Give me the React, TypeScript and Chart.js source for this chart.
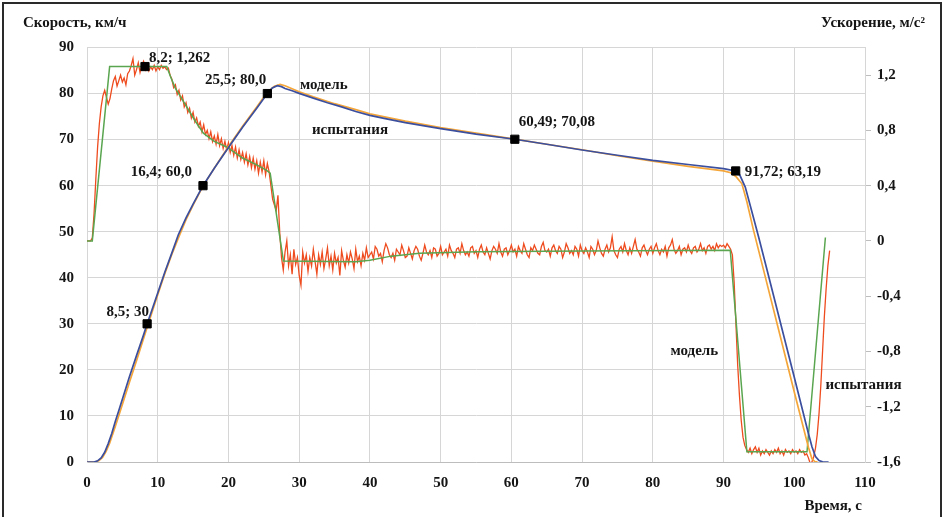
import { useEffect, useRef } from 'react';
import { Chart, registerables } from 'chart.js';

Chart.register(...registerables);

// ---------- DATA ----------
// Speed, test (km/h) – blue
const TEST_SPEED_T = [0, 1, 1.5, 2, 2.5, 3, 3.5, 4, 4.5, 5, 6, 7, 8, 8.5, 9, 10, 11, 12, 12.9, 14, 15, 16.4, 18, 20, 22, 24, 25.5, 26.2, 26.9, 27.5, 28, 29, 30, 32, 34, 36, 38, 40, 42, 45, 50, 55, 60.49, 65, 70, 75, 80, 85, 90, 91.72, 92.3, 93.07, 94, 94.95, 96, 98, 100, 102, 102.5, 103, 103.5, 104, 104.85];
const TEST_SPEED_V = [0, 0, 0.25, 0.9, 2.1, 4, 6.2, 8.8, 11.2, 13.6, 18.5, 23.1, 27.6, 30, 32.2, 36.7, 41.2, 45.4, 49.3, 53, 56, 60, 63.8, 68.3, 72.7, 76.8, 80, 81.2, 81.7, 81.5, 81.1, 80.6, 80.05, 79.0, 78.0, 77.1, 76.1, 75.25, 74.6, 73.7, 72.4, 71.2, 70.08, 69.0, 67.75, 66.6, 65.5, 64.6, 63.7, 63.19, 62.3, 59.7, 54.4, 48.9, 42.6, 30.5, 18.4, 6.2, 3.3, 1.2, 0.3, 0.05, 0];

// Speed, model (km/h) – orange
const MODEL_SPEED_T = [0, 1.2, 1.7, 2.2, 2.7, 3.2, 4, 5, 6, 7, 8, 8.5, 9, 10, 11, 12, 13, 14, 15, 16.4, 18, 20, 22, 24, 25.5, 26.5, 27.3, 28, 30, 32, 35, 38, 40, 45, 50, 55, 60, 65, 70, 75, 80, 85, 90, 91, 91.8, 92.6, 93.3, 94.24, 96, 98, 100, 102, 102.5, 102.9, 103.3];
const MODEL_SPEED_V = [0, 0, 0.3, 1.0, 2.3, 4.1, 7.7, 12.5, 17.3, 22.0, 26.8, 29.2, 31.6, 36.3, 40.9, 45.1, 48.9, 52.6, 55.8, 59.9, 63.8, 68.5, 72.9, 77.1, 80.3, 81.6, 82.0, 81.7, 80.4, 79.3, 77.8, 76.5, 75.6, 74.0, 72.6, 71.4, 70.2, 69.0, 67.8, 66.5, 65.3, 64.2, 63.2, 62.8, 61.9, 60.4, 56.5, 50.3, 39.6, 27.4, 15.2, 3.2, 0.7, 0.1, 0];

// Acceleration, model (m/s²) – green
const MODEL_ACC_T = [0, 0.75, 3.2, 11.27, 11.8, 12.45, 13.86, 15.28, 16.45, 18, 19.76, 22, 24, 25.4, 25.9, 27.77, 38, 40, 43, 47, 55, 70, 90.95, 93.3, 101.8, 104.4];
const MODEL_ACC_V = [0, 0, 1.262, 1.262, 1.19, 1.11, 0.99, 0.87, 0.78, 0.72, 0.68, 0.6, 0.55, 0.51, 0.49, -0.145, -0.15, -0.14, -0.11, -0.09, -0.078, -0.072, -0.068, -1.526, -1.526, 0.025];

// Acceleration, test (m/s²) – red, sampled every 0.25 s from t = 0 (one row = 1 s)
const TEST_ACC_STEP = 0.25;
const TEST_ACC = [
  0, 0, 0, 0.02,
  0.2, 0.45, 0.68, 0.85,
  0.97, 1.05, 1.09, 1.04,
  0.99, 1.03, 1.1, 1.16,
  1.19, 1.12, 1.16, 1.2,
  1.15, 1.18, 1.13, 1.21,
  1.23, 1.27, 1.32, 1.2,
  1.24, 1.29, 1.22, 1.27,
  1.3, 1.24, 1.27, 1.23,
  1.26, 1.24, 1.27, 1.23,
  1.26, 1.24, 1.27, 1.25,
  1.26, 1.24, 1.25, 1.2,
  1.17, 1.11, 1.13, 1.06,
  1.09, 1.02, 1.05, 0.97,
  1.0, 0.93, 0.96, 0.89,
  0.93, 0.86, 0.89, 0.83,
  0.86, 0.79, 0.84, 0.77,
  0.8, 0.74, 0.79, 0.72,
  0.76, 0.7, 0.77, 0.69,
  0.74, 0.67, 0.72, 0.66,
  0.71, 0.64, 0.69, 0.62,
  0.68, 0.6, 0.66, 0.59,
  0.64, 0.57, 0.63, 0.55,
  0.61, 0.53, 0.6, 0.52,
  0.58, 0.49, 0.57, 0.5,
  0.58, 0.48, 0.56, 0.5,
  0.4, 0.3, 0.26, 0.22,
  0.33, 0.06, -0.12, -0.21,
  -0.08, 0.0, -0.18, -0.1,
  -0.24, -0.06, -0.17, -0.12,
  -0.25, -0.32, -0.08, -0.16,
  -0.1, -0.22, -0.12, -0.18,
  -0.06, -0.15, -0.24, -0.1,
  -0.17, -0.08, -0.2, -0.13,
  -0.05, -0.18, -0.11, -0.21,
  -0.09, -0.16, -0.12, -0.25,
  -0.07, -0.14, -0.19, -0.1,
  -0.16, -0.08, -0.13, -0.2,
  -0.06, -0.15, -0.11, -0.18,
  -0.09, -0.14, -0.05, -0.12,
  -0.1, -0.08, -0.13, -0.04,
  -0.06, -0.11, -0.09, -0.15,
  -0.07, -0.02, -0.05, -0.1,
  -0.12, -0.09, -0.14, -0.06,
  -0.08, -0.1, -0.03, -0.07,
  -0.12, -0.11, -0.05, -0.09,
  -0.13, -0.07, -0.04, -0.06,
  -0.11, -0.14, -0.09, -0.03,
  -0.08, -0.1, -0.07, -0.12,
  -0.05, -0.06, -0.11, -0.09,
  -0.04, -0.1, -0.08, -0.06,
  -0.11, -0.03, -0.07, -0.09,
  -0.12, -0.06, -0.05, -0.09,
  -0.02, -0.07, -0.1, -0.08,
  -0.11, -0.05, -0.04, -0.09,
  -0.07, -0.12, -0.06, -0.03,
  -0.08, -0.1, -0.05, -0.09,
  -0.13, -0.07, -0.04, -0.06,
  -0.09, -0.02, -0.08, -0.11,
  -0.06, -0.05, -0.1, -0.07,
  -0.03, -0.08, -0.06, -0.11,
  -0.04, -0.07, -0.09, -0.02,
  -0.06, -0.1, -0.12, -0.05,
  -0.07, -0.03, -0.06, -0.09,
  -0.1, -0.04, -0.01, -0.07,
  -0.08, -0.06, -0.11, -0.05,
  -0.03, -0.07, -0.09, -0.04,
  -0.06, -0.12, -0.08, -0.02,
  -0.05, -0.09, -0.07, -0.1,
  -0.04, -0.06, -0.11, -0.03,
  -0.07, -0.09, -0.05, -0.08,
  -0.12, -0.04, -0.06, -0.1,
  -0.07, 0.0, -0.05, -0.09,
  -0.11, -0.06, -0.03, -0.08,
  -0.05, 0.03, -0.07, -0.1,
  -0.12, -0.06, -0.04, -0.08,
  -0.02, -0.07, -0.1, -0.05,
  -0.09, -0.04, 0.01, -0.06,
  -0.08, -0.11, -0.05, -0.03,
  -0.07, -0.1, -0.06, -0.04,
  -0.09, -0.05, -0.02, -0.07,
  -0.1, -0.06, -0.08, -0.04,
  -0.11, -0.05, -0.03, 0.01,
  -0.06, -0.09, -0.07, -0.04,
  -0.1, -0.06, -0.05, -0.08,
  -0.03, -0.07, -0.09, -0.05,
  -0.04, -0.08, -0.06, -0.02,
  -0.07, -0.05, -0.09, -0.04,
  -0.03, -0.06, -0.04, -0.07,
  -0.02, -0.05, -0.03, -0.04,
  -0.03, -0.05, -0.02, -0.04,
  -0.06, -0.1, -0.3, -0.6,
  -0.9, -1.12, -1.3, -1.42,
  -1.48, -1.51, -1.53, -1.5,
  -1.54, -1.51, -1.49, -1.53,
  -1.5, -1.55, -1.52, -1.54,
  -1.51, -1.53, -1.55, -1.52,
  -1.54, -1.51, -1.53, -1.5,
  -1.54, -1.52, -1.55, -1.51,
  -1.53, -1.52, -1.54, -1.51,
  -1.53, -1.52, -1.54, -1.51,
  -1.53, -1.52, -1.55, -1.54,
  -1.57, -1.61, -1.6, -1.56,
  -1.5, -1.4, -1.25, -1.05,
  -0.8, -0.55, -0.35, -0.18,
  -0.07,
];

// Marked points
const SPEED_MARK_T = [8.5, 16.4, 25.5, 60.49, 91.72];
const SPEED_MARK_V = [30, 60, 80, 70.08, 63.19];
const ACC_MARK_T = [8.2];
const ACC_MARK_V = [1.262];

// Labels (text + anchor in data units + axis)
const LABEL_TEXT = ['8,2; 1,262', '25,5; 80,0', '16,4; 60,0', '8,5; 30', '60,49; 70,08', '91,72; 63,19', 'модель', 'испытания', 'модель', 'испытания'];
const LABEL_T = [8.2, 25.5, 16.4, 8.5, 60.49, 91.72, 30.1, 31.8, 82.5, 104.4];
const LABEL_V = [1.262, 80, 60, 30, 70.08, 63.19, 81.8, 72.0, 24.1, 16.7];
const LABEL_AXIS = ['y1', 'y', 'y', 'y', 'y', 'y', 'y', 'y', 'y', 'y'];

// Ticks
const X_MIN = 0, X_MAX = 110, X_STEP = 10;
const SPEED_MIN = 0, SPEED_MAX = 90, SPEED_STEP = 10;
const ACC_MIN = -1.6, ACC_MAX = 1.4;
const ACC_TICKS = [-1.6, -1.2, -0.8, -0.4, 0, 0.4, 0.8, 1.2];

// Axis titles
const TITLE_LEFT = 'Скорость, км/ч';
const TITLE_RIGHT = 'Ускорение, м/с²';
const TITLE_X = 'Время, с';

// ---------- LAYOUT / STYLE ----------
const W = 946, H = 517;
const FONT = 'bold 15px "Liberation Serif"';
const LABEL_LAYOUT = [
  { dx: 4, dy: -8, align: 'left' },
  { dx: -1, dy: -13, align: 'right' },
  { dx: -11, dy: -14, align: 'right' },
  { dx: 2, dy: -12, align: 'right' },
  { dx: 4, dy: -17, align: 'left' },
  { dx: 9, dy: 1, align: 'left' },
  { dx: 0, dy: 0, align: 'left' },
  { dx: 0, dy: 0, align: 'left' },
  { dx: 0, dy: 0, align: 'left' },
  { dx: 0, dy: 0, align: 'left' },
];

const zip = (xs: number[], ys: number[]) => xs.map((x, i) => ({ x, y: ys[i] }));
const fmt = (v: number) => (v === 0 ? '0' : String(Math.round(v * 10) / 10).replace('.', ','));

const textPlugin = {
  id: 'texts',
  afterDraw(chart: any) {
    const ctx = chart.ctx;
    ctx.save();
    ctx.font = FONT;
    ctx.fillStyle = '#151515';
    ctx.textBaseline = 'middle';
    const xs = chart.scales.x;
    LABEL_TEXT.forEach((t, i) => {
      const ys = chart.scales[LABEL_AXIS[i]];
      const lay = LABEL_LAYOUT[i];
      ctx.textAlign = lay.align;
      ctx.fillText(t, xs.getPixelForValue(LABEL_T[i]) + lay.dx, ys.getPixelForValue(LABEL_V[i]) + lay.dy);
    });
    ctx.textAlign = 'left';
    ctx.fillText(TITLE_LEFT, 23, 23);
    ctx.textAlign = 'right';
    ctx.fillText(TITLE_RIGHT, 925, 23);
    ctx.fillText(TITLE_X, 862, 506);
    ctx.restore();
  },
};

export default function App() {
  const ref = useRef<HTMLCanvasElement>(null);
  useEffect(() => {
    if (!ref.current) return;
    const testAcc = TEST_ACC.map((v, i) => ({ x: i * TEST_ACC_STEP, y: v }));
    const line = (color: string, width: number) => ({
      borderColor: color,
      backgroundColor: color,
      borderWidth: width,
      pointRadius: 0,
      fill: false,
      tension: 0,
    });
    const chart = new Chart(ref.current, {
      type: 'line',
      data: {
        datasets: [
          { ...line('#000', 1), data: zip(SPEED_MARK_T, SPEED_MARK_V), yAxisID: 'y', showLine: false, pointRadius: 5.8, pointStyle: 'rect', pointBackgroundColor: '#000', pointBorderColor: '#000', order: 0 },
          { ...line('#000', 1), data: zip(ACC_MARK_T, ACC_MARK_V), yAxisID: 'y1', showLine: false, pointRadius: 5.8, pointStyle: 'rect', pointBackgroundColor: '#000', pointBorderColor: '#000', order: 0 },
          { ...line('#3b4f9e', 1.7), data: zip(TEST_SPEED_T, TEST_SPEED_V), yAxisID: 'y', order: 1 },
          { ...line('#f5a63a', 1.7), data: zip(MODEL_SPEED_T, MODEL_SPEED_V), yAxisID: 'y', order: 2 },
          { ...line('#5aa650', 1.5), data: zip(MODEL_ACC_T, MODEL_ACC_V), yAxisID: 'y1', order: 3 },
          { ...line('#ee4b1e', 1.3), data: testAcc, yAxisID: 'y1', order: 4 },
        ],
      },
      options: {
        animation: false,
        responsive: false,
        devicePixelRatio: 1,
        parsing: false as any,
        normalized: true,
        layout: { padding: { top: 47.5, left: 0, right: 0, bottom: 0 } },
        plugins: { legend: { display: false }, tooltip: { enabled: false } },
        scales: {
          x: {
            type: 'linear',
            min: X_MIN,
            max: X_MAX,
            ticks: { stepSize: X_STEP, font: { family: 'Liberation Serif', weight: 'bold', size: 15 }, color: '#151515', padding: 12 },
            grid: { color: '#d6d6d6', drawTicks: false },
            border: { color: '#bdbdbd' },
            afterFit: (s: any) => { s.height = 55; },
          },
          y: {
            type: 'linear',
            position: 'left',
            min: SPEED_MIN,
            max: SPEED_MAX,
            ticks: { stepSize: SPEED_STEP, font: { family: 'Liberation Serif', weight: 'bold', size: 15 }, color: '#151515', padding: 13 },
            grid: { color: '#d6d6d6', drawTicks: false },
            border: { color: '#d6d6d6' },
            afterFit: (s: any) => { s.width = 87; },
          },
          y1: {
            type: 'linear',
            position: 'right',
            min: ACC_MIN,
            max: ACC_MAX,
            afterBuildTicks: (s: any) => { s.ticks = ACC_TICKS.map((v) => ({ value: v })); },
            ticks: { font: { family: 'Liberation Serif', weight: 'bold', size: 15 }, color: '#151515', padding: 6, callback: (v: any) => fmt(Number(v)) },
            grid: { drawOnChartArea: false, drawTicks: true, tickLength: 6, color: '#bdbdbd' },
            border: { color: '#d6d6d6' },
            afterFit: (s: any) => { s.width = 81; },
          },
        },
      },
      plugins: [textPlugin],
    } as any);
    return () => chart.destroy();
  }, []);

  return (
    <div style={{ position: 'absolute', left: 0, top: 0, width: W, height: H, background: '#fff', overflow: 'hidden' }}>
      <canvas ref={ref} width={W} height={H} style={{ width: W, height: H, display: 'block' }} />
      <div style={{ position: 'absolute', left: 2, top: 2, width: 936, height: 530, border: '2px solid #2a2a2a', pointerEvents: 'none' }} />
    </div>
  );
}
